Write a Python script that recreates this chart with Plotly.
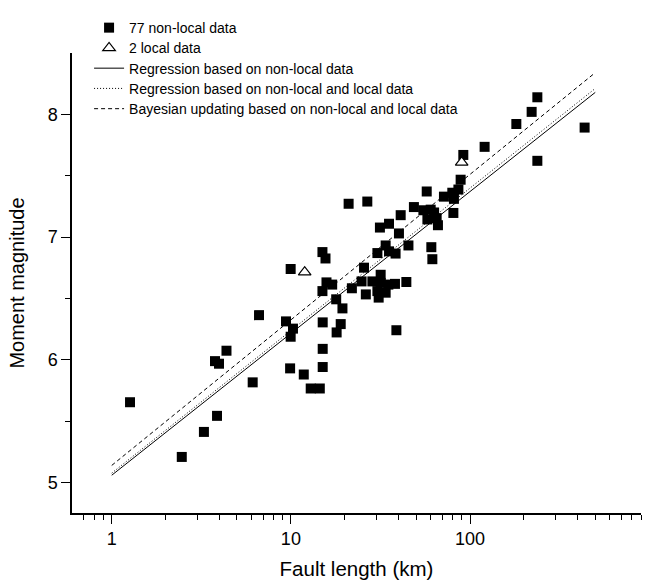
import plotly.graph_objects as go

# Non-local data (fault length km, moment magnitude)
nonlocal_L = [1.265, 2.46, 3.27, 3.87, 3.77, 3.97, 4.37, 6.12, 6.64, 9.39,
              10.27, 9.97, 9.9, 11.8, 12.9, 14.5, 15.05, 15.05, 15.05, 18.0,
              18.97, 19.4, 9.97, 15.0, 15.6, 15.0, 15.8, 17.0, 17.9, 21.0,
              26.7, 21.9, 25.6, 24.8, 26.2, 28.5, 30.4, 30.9, 31.7, 31.7,
              33.8, 35.0, 38.1, 44.1, 38.8, 30.4, 33.8, 35.3, 38.4, 40.1,
              45.3, 31.4, 35.3, 41.0, 48.6, 57.3, 54.9, 60.3, 57.8, 65.1,
              66.2, 80.7, 60.8, 61.6, 71.5, 79.6, 81.3, 86.1, 88.6, 91.7,
              120.6, 181.3, 220.7, 237.5, 237.5, 436.0, 63.0]
nonlocal_M = [5.653, 5.207, 5.411, 5.542, 5.988, 5.967, 6.073, 5.815, 6.363, 6.312,
              6.253, 6.187, 5.929, 5.879, 5.765, 5.765, 6.304, 6.088, 5.940, 6.222,
              6.290, 6.418, 6.739, 6.877, 6.825, 6.559, 6.630, 6.612, 6.492, 7.271,
              7.289, 6.582, 6.750, 6.638, 6.532, 6.638, 6.559, 6.506, 6.692, 6.626,
              6.546, 6.612, 6.618, 6.633, 6.240, 6.869, 6.931, 6.883, 6.865, 7.029,
              6.931, 7.077, 7.108, 7.178, 7.244, 7.371, 7.218, 7.223, 7.143, 7.154,
              7.096, 7.196, 6.917, 6.819, 7.329, 7.361, 7.311, 7.387, 7.467, 7.669,
              7.735, 7.921, 8.020, 8.139, 7.621, 7.892, 7.200]

# Local data
local_L = [11.94, 89.8]
local_M = [6.713, 7.608]

# Fitted lines (endpoints)
line_L = [1, 500]
reg_nonlocal = [5.058, 8.179]
reg_all = [5.075, 8.211]
bayes = [5.138, 8.340]

# Axis ticks
x_major = [1, 10, 100]
x_minor = [0.7, 0.8, 0.9, 2, 3, 4, 5, 6, 7, 8, 9, 20, 30, 40, 50, 60, 70, 80, 90,
           200, 300, 400, 500, 600, 700, 800, 900]
y_major = [5, 6, 7, 8]
y_minor = [5.5, 6.5, 7.5]

FONT = "Liberation Sans, Arial, sans-serif"

fig = go.Figure()
fig.add_trace(go.Scatter(x=nonlocal_L, y=nonlocal_M, mode="markers",
                         name="77 non-local data", legend="legend",
                         marker=dict(symbol="square", size=10, color="black",
                                     line=dict(width=0))))
fig.add_trace(go.Scatter(x=local_L, y=local_M, mode="markers",
                         name="2 local data", legend="legend2",
                         marker=dict(symbol="triangle-up", size=11, color="white",
                                     line=dict(width=1.2, color="black"))))
fig.add_trace(go.Scatter(x=line_L, y=reg_nonlocal, mode="lines",
                         name="Regression based on non-local data", legend="legend3",
                         line=dict(color="black", width=1)))
fig.add_trace(go.Scatter(x=line_L, y=reg_all, mode="lines",
                         name="Regression based on non-local and local data",
                         legend="legend4",
                         line=dict(color="black", width=1, dash="1px,2px")))
fig.add_trace(go.Scatter(x=line_L, y=bayes, mode="lines",
                         name="Bayesian updating based on non-local and local data",
                         legend="legend5",
                         line=dict(color="black", width=1, dash="4px,3px")))

PLOT_TOP, PLOT_H = 43, 470
row_px = [17.5, 38.2, 58.9, 79.6, 100.3]


def leg(py):
    return dict(x=0.03, y=(PLOT_TOP + PLOT_H - py) / PLOT_H,
                xanchor="left", yanchor="middle",
                bgcolor="rgba(0,0,0,0)", borderwidth=0,
                font=dict(size=14, family=FONT))


fig.update_layout(
    width=656, height=588,
    margin=dict(l=72, r=15, t=PLOT_TOP, b=75),
    paper_bgcolor="white", plot_bgcolor="white",
    font=dict(family=FONT, color="black"),
    showlegend=True,
    legend=leg(row_px[0]), legend2=leg(row_px[1]), legend3=leg(row_px[2]),
    legend4=leg(row_px[3]), legend5=leg(row_px[4]),
    xaxis=dict(type="log", range=[-0.2218, 2.9542],
               title=dict(text="Fault length (km)", font=dict(size=20.5), standoff=13),
               showline=True, linecolor="black", linewidth=1.5,
               ticks="outside", ticklen=9, tickwidth=1.2, tickcolor="black",
               tickvals=x_major, ticktext=[str(v) for v in x_major],
               tickfont=dict(size=18), showgrid=False, zeroline=False,
               minor=dict(tickvals=x_minor, ticks="outside", ticklen=5,
                          tickwidth=1.2, tickcolor="black", showgrid=False)),
    yaxis=dict(range=[4.75, 8.5],
               title=dict(text="Moment magnitude", font=dict(size=20), standoff=18),
               showline=True, linecolor="black", linewidth=1.5,
               ticks="outside", ticklen=9, tickwidth=1.2, tickcolor="black",
               tickvals=y_major, tickfont=dict(size=18),
               showgrid=False, zeroline=False,
               minor=dict(tickvals=y_minor, ticks="outside", ticklen=5,
                          tickwidth=1.2, tickcolor="black", showgrid=False)),
)

fig.write_html("out.html")
